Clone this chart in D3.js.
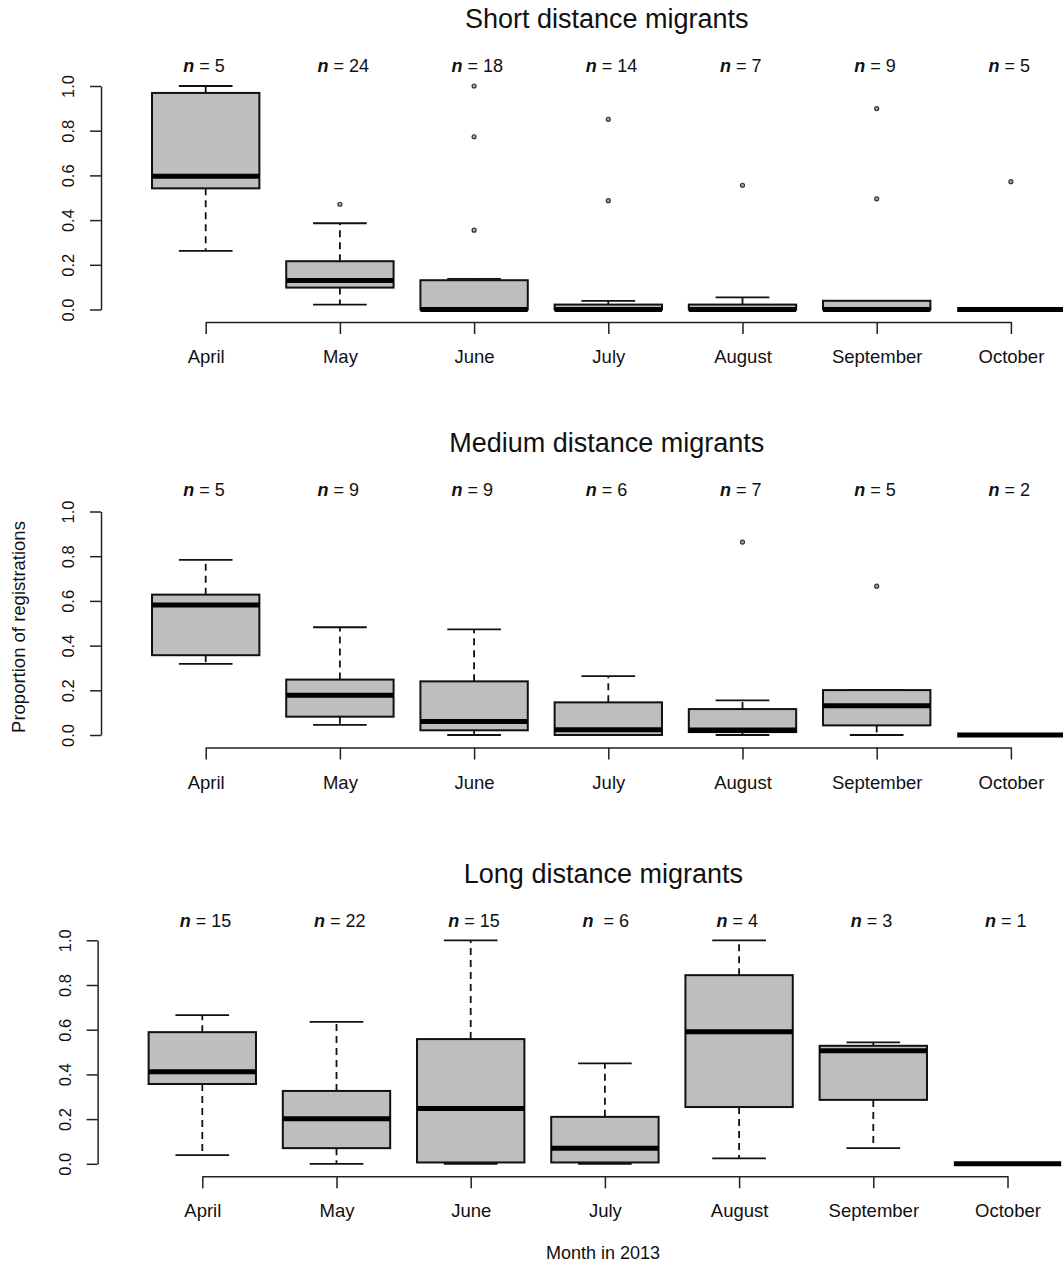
<!DOCTYPE html>
<html>
<head>
<meta charset="utf-8">
<script src="https://cdn.jsdelivr.net/npm/d3@7"></script>
<style>
  html, body { margin: 0; padding: 0; background: #fff; }
  svg { display: block; }
  text { font-family: "Liberation Sans", Arial, sans-serif; fill: #111; }
</style>
</head>
<body>
<svg id="chart" width="1063" height="1264"></svg>
<script>
// Months on the x axis
const months = ["April", "May", "June", "July", "August", "September", "October"];
const groupTitles = ["Short distance migrants", "Medium distance migrants", "Long distance migrants"];

// Sample sizes per month
const shortN  = [5, 24, 18, 14, 7, 9, 5];
const mediumN = [5, 9, 9, 6, 7, 5, 2];
const longN   = [15, 22, 15, 6, 4, 3, 1];
// label text for the "= n" part (one label carries an extra space)
const shortNText  = ["= 5", "= 24", "= 18", "= 14", "= 7", "= 9", "= 5"];
const mediumNText = ["= 5", "= 9", "= 9", "= 6", "= 7", "= 5", "= 2"];
const longNText   = ["= 15", "= 22", "= 15", " = 6", "= 4", "= 3", "= 1"];

// Box statistics: [lower whisker, Q1, median, Q3, upper whisker]
const shortStats = [
  [0.262, 0.542, 0.596, 0.969, 1.000],
  [0.022, 0.098, 0.130, 0.216, 0.386],
  [0.000, 0.000, 0.000, 0.131, 0.137],
  [0.000, 0.000, 0.000, 0.022, 0.039],
  [0.000, 0.000, 0.000, 0.022, 0.054],
  [0.000, 0.000, 0.000, 0.039, 0.039],
  [0.000, 0.000, 0.000, 0.000, 0.000]
];
const mediumStats = [
  [0.318, 0.357, 0.582, 0.628, 0.784],
  [0.045, 0.082, 0.178, 0.248, 0.482],
  [0.000, 0.021, 0.060, 0.240, 0.473],
  [0.000, 0.000, 0.024, 0.146, 0.263],
  [0.000, 0.013, 0.022, 0.116, 0.155],
  [0.000, 0.043, 0.131, 0.201, 0.201],
  [0.000, 0.000, 0.000, 0.000, 0.000]
];
const longStats = [
  [0.039, 0.357, 0.412, 0.589, 0.665],
  [0.000, 0.070, 0.202, 0.326, 0.635],
  [0.000, 0.006, 0.247, 0.558, 1.000],
  [0.000, 0.006, 0.070, 0.210, 0.449],
  [0.024, 0.254, 0.591, 0.844, 1.000],
  [0.070, 0.286, 0.506, 0.528, 0.543],
  [0.000, 0.000, 0.000, 0.000, 0.000]
];

// Outlying points per month
const shortOutliers  = [[], [0.471], [1.000, 0.773, 0.355], [0.851, 0.487], [0.556], [0.899, 0.495], [0.572]];
const mediumOutliers = [[], [], [], [], [0.863], [0.666], []];
const longOutliers   = [[], [], [], [], [], [], []];

const yTicks = [0, 0.2, 0.4, 0.6, 0.8, 1.0];

const panels = [
  { title: groupTitles[0], n: shortN,  nText: shortNText,  stats: shortStats,  outliers: shortOutliers,  top: 86,    dx: 0,    nBase: 72,  titleBase: 28 },
  { title: groupTitles[1], n: mediumN, nText: mediumNText, stats: mediumStats, outliers: mediumOutliers, top: 511.5, dx: 0,    nBase: 496, titleBase: 452 },
  { title: groupTitles[2], n: longN,   nText: longNText,   stats: longStats,   outliers: longOutliers,   top: 940.3, dx: -3.4, nBase: 927, titleBase: 883 }
];

const svg = d3.select("#chart");
const step = 134.2;           // distance between month positions
const firstX = 205.7;         // position of the first month
const plotH = 223.5;          // pixel height of the 0..1 range
const halfBox = 0.4 * step;   // half box width
const halfCap = 0.2 * step;   // half whisker-cap width
const fill = "#BEBEBE";

panels.forEach((p, pi) => {
  const g = svg.append("g").attr("class", "panel");

  const x = d3.scalePoint()
    .domain(months)
    .range([firstX + p.dx, firstX + p.dx + step * (months.length - 1)]);
  const xLeft = x(months[0]) - 0.78 * step;   // left edge of plot region
  const xRight = x(months[months.length - 1]) + 0.78 * step;

  const y = d3.scaleLinear().domain([0, 1]).range([p.top + plotH, p.top]);
  const axisY = y(0) + 12.5;

  // Title
  g.append("text")
    .attr("x", (xLeft + xRight) / 2 - 1.5)
    .attr("y", p.titleBase)
    .attr("text-anchor", "middle")
    .style("font-size", "27px")
    .text(p.title);

  // Y axis
  const yAxis = d3.axisLeft(y).tickValues(yTicks).tickFormat(d3.format(".1f"))
    .tickSize(11).tickSizeOuter(0);
  const ya = g.append("g").attr("transform", `translate(${xLeft},0)`).call(yAxis);
  ya.selectAll("path, line").attr("stroke", "#222").attr("stroke-width", 1.5);
  ya.selectAll("text")
    .attr("x", null).attr("dy", null)
    .attr("text-anchor", "middle")
    .attr("transform", "translate(-27,0) rotate(-90)")
    .style("font-size", "16.5px")
    .style("font-family", "'Liberation Sans', Arial, sans-serif")
    .attr("fill", "#111");

  // X axis (drawn a little below the plotting range)
  const xAxis = d3.axisBottom(x).tickSize(12).tickSizeOuter(0).tickPadding(0);
  const xa = g.append("g").attr("transform", `translate(0,${axisY})`).call(xAxis);
  xa.selectAll("path, line").attr("stroke", "#222").attr("stroke-width", 1.5);
  xa.selectAll("text")
    .attr("dy", null)
    .attr("y", 41)
    .style("font-size", "18.5px")
    .style("font-family", "'Liberation Sans', Arial, sans-serif")
    .attr("fill", "#111");

  // Boxes
  months.forEach((m, i) => {
    const [lo, q1, med, q3, hi] = p.stats[i];
    const cx = x(m);
    const bg = g.append("g").attr("class", "box");

    // whiskers (dashed) and caps
    if (hi > q3) {
      bg.append("line").attr("x1", cx).attr("x2", cx).attr("y1", y(q3)).attr("y2", y(hi))
        .attr("stroke", "#111").attr("stroke-width", 1.8).attr("stroke-dasharray", "7,5");
    }
    if (lo < q1) {
      bg.append("line").attr("x1", cx).attr("x2", cx).attr("y1", y(q1)).attr("y2", y(lo))
        .attr("stroke", "#111").attr("stroke-width", 1.8).attr("stroke-dasharray", "7,5");
    }
    [lo, hi].forEach(v => {
      bg.append("line").attr("x1", cx - halfCap).attr("x2", cx + halfCap)
        .attr("y1", y(v)).attr("y2", y(v))
        .attr("stroke", "#111").attr("stroke-width", 1.8);
    });

    // box
    bg.append("rect")
      .attr("x", cx - halfBox).attr("width", 2 * halfBox)
      .attr("y", y(q3)).attr("height", Math.max(0, y(q1) - y(q3)))
      .attr("fill", fill).attr("stroke", "#111").attr("stroke-width", 2);

    // median
    bg.append("line").attr("x1", cx - halfBox).attr("x2", cx + halfBox)
      .attr("y1", y(med)).attr("y2", y(med))
      .attr("stroke", "#000").attr("stroke-width", 5);

    // outliers
    p.outliers[i].forEach(v => {
      bg.append("circle").attr("cx", cx).attr("cy", y(v)).attr("r", 2)
        .attr("fill", "#aaa").attr("stroke", "#333").attr("stroke-width", 1.2);
    });

    // sample size label
    const t = g.append("text")
      .attr("x", cx - 22.5).attr("y", p.nBase)
      .attr("text-anchor", "start")
      .style("font-size", "18px")
      .style("white-space", "pre");
    t.append("tspan").style("font-weight", "bold").style("font-style", "italic").text("n");
    t.append("tspan").text(" " + p.nText[i]);
  });
});

// Shared axis titles
svg.append("text")
  .attr("transform", "translate(25,627) rotate(-90)")
  .attr("text-anchor", "middle")
  .style("font-size", "18.5px")
  .text("Proportion of registrations");

svg.append("text")
  .attr("x", 603).attr("y", 1259)
  .attr("text-anchor", "middle")
  .style("font-size", "18px")
  .text("Month in 2013");
</script>
</body>
</html>
